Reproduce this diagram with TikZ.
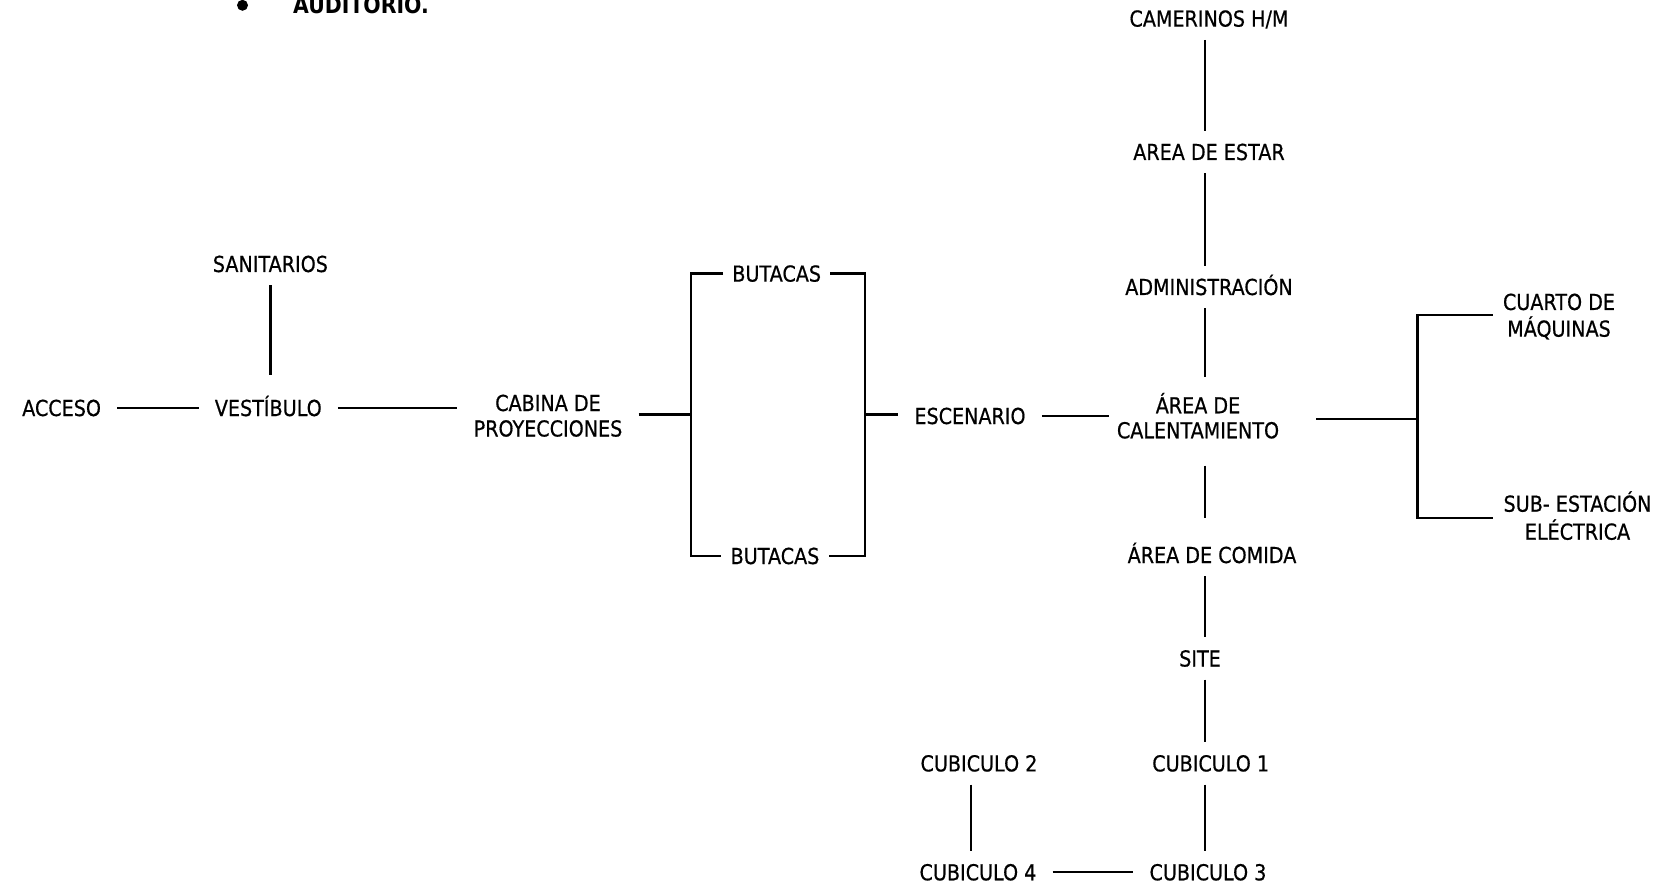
\documentclass[tikz,border=0pt]{standalone}
\usepackage{fontspec}
\newfontfamily\lblfont{DejaVu Sans}[FakeStretch=0.87,FakeBold=0.6]
\newfontfamily\audfont{DejaVu Sans Bold}[FakeStretch=0.87]
\newcommand\twolines[3][26pt]{\vtop{\baselineskip=#1\relax\halign{\hfil##\hfil\cr #2\cr #3\cr}}}
\tikzset{
  lbl/.style={font=\lblfont\fontsize{22}{25.5}\selectfont, inner xsep=16pt, inner ysep=13pt, text height=16pt, text depth=0pt},
  lbltwo/.style={lbl, text depth=#1},
  link/.style={line width=2.2pt},
}
\begin{document}
\begin{tikzpicture}[x=1pt,y=-1pt]
\useasboundingbox (0,0) rectangle (1666,885);
\fill[white] (0,0) rectangle (1666,885);
% title
\node[circle, fill=black, inner sep=0pt, minimum size=11pt] (bullet) at (242.5,5.3) {};
\node[font=\audfont\fontsize{23.5}{26}\selectfont, inner sep=0pt, anchor=base] (aud) at (361,13.3) {AUDITORIO.};
% nodes
\node[lbl] (acceso) at (61.6,408) {ACCESO};
\node[lbl] (vest) at (268.3,408) {VESTÍBULO};
\node[lbl] (sanit) at (270.4,264) {SANITARIOS};
\node[lbltwo=25.5pt] (cabina) at (548,415.75) {\twolines[25.5pt]{CABINA DE}{PROYECCIONES}};
\node[lbl, inner xsep=9pt] (butT) at (776.7,273.6) {BUTACAS};
\node[lbl, inner xsep=9pt] (butB) at (775,556) {BUTACAS};
\node[lbl] (esc) at (970,416) {ESCENARIO};
\node[lbltwo=25pt] (cal) at (1198,417.8) {\twolines[25pt]{ÁREA DE}{CALENTAMIENTO}};
\node[lbl] (cam) at (1209,18.6) {CAMERINOS H/M};
\node[lbl] (estar) at (1209,152) {AREA DE ESTAR};
\node[lbl] (admin) at (1209,287) {ADMINISTRACIÓN};
\node[lbl] (comida) at (1212,555) {ÁREA DE COMIDA};
\node[lbl] (site) at (1200,658.5) {SITE};
\node[lbl] (cub1) at (1210.7,763.4) {CUBICULO 1};
\node[lbl] (cub2) at (979,763.4) {CUBICULO 2};
\node[lbl] (cub3) at (1208,872.3) {CUBICULO 3};
\node[lbl] (cub4) at (978,872.3) {CUBICULO 4};
\node[lbltwo=26.7pt, inner xsep=10pt] (cuarto) at (1559,315.3) {\twolines[26.7pt]{CUARTO DE}{MÁQUINAS}};
\node[lbltwo=28pt, inner xsep=10pt] (sub) at (1577.5,517.7) {\twolines[28pt]{SUB- ESTACIÓN}{ELÉCTRICA}};
% junction coordinates
\coordinate (brL) at (690.6,414.4);
\coordinate (brR) at (865,414.4);
\coordinate (brM) at (1417.4,418.6);
\coordinate (col) at (1204.9,0);
\coordinate (col2) at (971,0);
% connectors
\draw[link] (acceso) -- (vest);
\draw[link] (vest.east) -- (vest.east -| cabina.west);
\draw[link, shorten >=12pt] (sanit.south) -- (sanit.south |- vest.north);
\draw[link] (cabina.east |- brL) -- (brL);
\draw[link] (butT.west) -| (brL) |- (butB.west);
\draw[link] (butT.east) -| (brR) |- (butB.east);
\draw[link] (brR) -- (brR -| esc.west);
\draw[link, shorten >=-8pt] (esc.east) -- (esc.east -| cal.west);
\draw[link, shorten <=21pt] (cal.east |- brM) -- (brM);
\draw[link] (cuarto.west) -| (brM) |- (sub.west);
\draw[link] (cam.south -| col) -- (estar.north -| col);
\draw[link] (estar.south -| col) -- (admin.north -| col);
\draw[link, shorten >=7pt] (admin.south -| col) -- (cal.north -| col);
\draw[link, shorten <=14pt, shorten >=15.5pt] (cal.south -| col) -- (comida.north -| col);
\draw[link] (comida.south -| col) -- (site.north -| col);
\draw[link] (site.south -| col) -- (cub1.north -| col);
\draw[link] (cub1.south -| col) -- (cub3.north -| col);
\draw[link] (cub2.south -| col2) -- (cub4.north -| col2);
\draw[link] (cub4) -- (cub3);
\end{tikzpicture}
\end{document}
